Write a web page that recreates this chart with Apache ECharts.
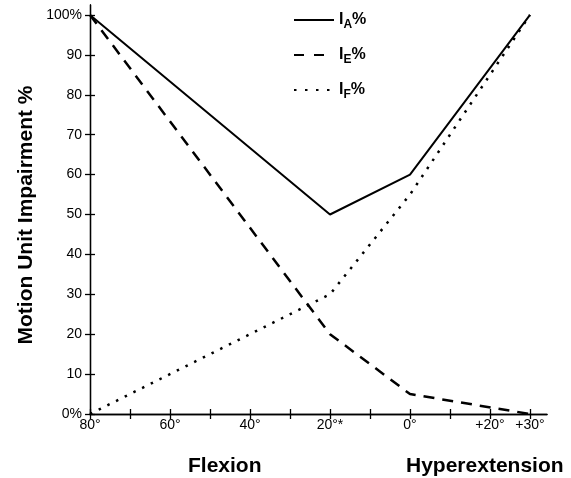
<!DOCTYPE html>
<html>
<head>
<meta charset="utf-8">
<script src="https://cdn.jsdelivr.net/npm/echarts@6/dist/echarts.min.js"></script>
<style>
html, body { margin: 0; padding: 0; background: #fff; }
#main { width: 571px; height: 478px; }
</style>
</head>
<body>
<div id="main"></div>
<script>
// joint angle: negative = flexion, positive = hyperextension
var angles = [-80, -20, 0, 30];
var iA = [100, 50, 60, 100];
var iE = [100, 20, 5, 0];
var iF = [0, 30, 55, 100];

var xTickValues = [-80, -70, -60, -50, -40, -30, -20, -10, 0, 10, 20, 30];
var xLabelValues = [-80, -60, -40, -20, 0, 20, 30];
var xLabelTexts = ['80°', '60°', '40°', '20°*', '0°', '+20°', '+30°'];
var yTickValues = [0, 10, 20, 30, 40, 50, 60, 70, 80, 90, 100];
var yLabelTexts = ['0%', '10', '20', '30', '40', '50', '60', '70', '80', '90', '100%'];

var FONT = 'Liberation Sans, Arial, Helvetica, sans-serif';

var pairs = function(ys) {
    return angles.map(function(a, i) { return [a, ys[i]]; });
};

var xLabel = function(v) {
    var i = xLabelValues.indexOf(v);
    return i < 0 ? '' : xLabelTexts[i];
};
var yLabel = function(v) {
    var i = yTickValues.indexOf(v);
    return i < 0 ? '' : yLabelTexts[i];
};

var chart = echarts.init(document.getElementById('main'));

var baseX = {
    type: 'value',
    min: -80,
    max: 34.25,
    position: 'bottom',
    splitLine: { show: false },
    axisLine: { show: true, onZero: false, lineStyle: { color: '#000', width: 1.3 } }
};
var baseY = {
    type: 'value',
    min: 0,
    max: 102.5,
    position: 'left',
    splitLine: { show: false },
    axisLine: { show: true, onZero: false, lineStyle: { color: '#000', width: 1.3 } }
};

var option = {
    animation: false,
    backgroundColor: '#fff',
    grid: { left: 90, right: 24, top: 5, bottom: 64, containLabel: false },
    xAxis: [
        Object.assign({}, baseX, {
            axisTick: { show: true, inside: false, length: 5, customValues: xTickValues, lineStyle: { color: '#000', width: 1.3 } },
            axisLabel: { show: true, customValues: xLabelValues, formatter: xLabel, color: '#000', fontSize: 14, fontFamily: FONT, margin: 4 }
        }),
        Object.assign({}, baseX, {
            axisTick: { show: true, inside: true, length: 5, customValues: xTickValues, lineStyle: { color: '#000', width: 1.3 } },
            axisLabel: { show: false }
        })
    ],
    yAxis: [
        Object.assign({}, baseY, {
            axisTick: { show: true, inside: false, length: 5, customValues: yTickValues, lineStyle: { color: '#000', width: 1.3 } },
            axisLabel: { show: true, customValues: yTickValues, formatter: yLabel, color: '#000', fontSize: 14, fontFamily: FONT, margin: 8 }
        }),
        Object.assign({}, baseY, {
            axisTick: { show: true, inside: true, length: 5, customValues: yTickValues, lineStyle: { color: '#000', width: 1.3 } },
            axisLabel: { show: false }
        })
    ],
    legend: {
        orient: 'vertical',
        left: 293,
        top: 12,
        padding: 0,
        itemWidth: 40,
        itemHeight: 14,
        itemGap: 16,
        itemStyle: { opacity: 0 },
        data: [
            { name: 'IA' },
            { name: 'IE', lineStyle: { type: [10, 10] } },
            { name: 'IF', lineStyle: { type: [2.5, 8.5] } }
        ],
        formatter: function(name) {
            return '{b|I}{s|' + name.charAt(1) + '}{b|%}';
        },
        textStyle: {
            rich: {
                b: { fontSize: 16, fontWeight: 'bold', color: '#000', fontFamily: FONT },
                s: { fontSize: 12, fontWeight: 'bold', color: '#000', fontFamily: FONT, padding: [10, 0, 0, 0] }
            }
        }
    },
    graphic: [
        {
            type: 'text', x: 26, y: 215, rotation: Math.PI / 2,
            style: { text: 'Motion Unit Impairment %', fill: '#000', font: 'bold 21px ' + FONT, align: 'center', verticalAlign: 'middle' }
        },
        { type: 'text', left: 188, top: 456, style: { text: 'Flexion', fill: '#000', font: 'bold 21px ' + FONT } },
        { type: 'text', left: 406, top: 456, style: { text: 'Hyperextension', fill: '#000', font: 'bold 21px ' + FONT } }
    ],
    series: [
        {
            name: 'IA', type: 'line', symbol: 'none',
            lineStyle: { color: '#000', width: 2 },
            itemStyle: { color: '#000' },
            data: pairs(iA)
        },
        {
            name: 'IE', type: 'line', symbol: 'none',
            lineStyle: { color: '#000', width: 2.5, type: [11, 8] },
            itemStyle: { color: '#000' },
            data: pairs(iE)
        },
        {
            name: 'IF', type: 'line', symbol: 'none',
            lineStyle: { color: '#000', width: 2.5, type: [2.5, 7.2] },
            itemStyle: { color: '#000' },
            data: pairs(iF)
        }
    ]
};

chart.setOption(option);
</script>
</body>
</html>
